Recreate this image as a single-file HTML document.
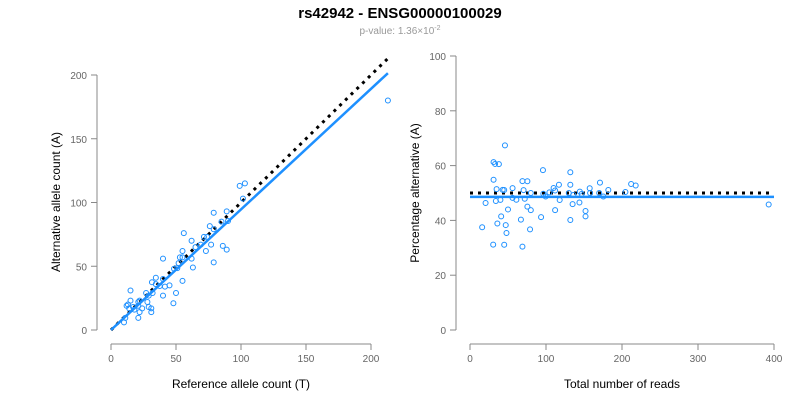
<!DOCTYPE html>
<html><head><meta charset="utf-8"><style>
body{margin:0;background:#fff;font-family:"Liberation Sans",Arial,sans-serif}
svg text{font-family:"Liberation Sans",Arial,sans-serif}
</style></head><body>
<svg id="c" width="800" height="400">
<text x="400" y="18" text-anchor="middle" font-size="15" font-weight="bold">rs42942 - ENSG00000100029</text>
<text x="400" y="34" text-anchor="middle" font-size="10" fill="#999">p-value: 1.36×10<tspan dy="-4" font-size="7">-2</tspan></text>
<g id="left"></g>
<g id="right"></g>
</svg>
<script>
const refCounts=[99,103,101.5,79,89,90,85,76,79,56,71.5,74,62,77,65,69,86,89,73,55,55,53,40,62,79,52,63,48.5,51,40,34.5,31.5,55,34.5,45,41.5,37.5,27,15,50,32,40,29,22,15,21,28,13,12,17,21,29,48,31,24,14,18,22,31,21,11,10,213];
const altCounts=[113,115,103,92,93,85.5,85,81.5,79,76,73,73,70,67,65,67,66,63,62,62,57,57,56,56,53,52.5,49,48,48.5,40,41,37.5,38.5,36,35,34,34.5,29,31,29,29,27,27,23,23,22,22,20,19,18,19,18,21,17,17,17,16,14,14,9.5,9.5,6,180];
const leftXTicks=[0,50,100,150,200];
const leftYTicks=[0,50,100,150,200];
const rightXTicks=[0,100,200,300,400];
const rightYTicks=[0,20,40,60,80,100];

const NS="http://www.w3.org/2000/svg";
function mk(p,t,a){const e=document.createElementNS(NS,t);for(const k in a)e.setAttribute(k,a[k]);p.appendChild(e);return e;}
const GR="#888", BL="#1E90FF";
const L=document.getElementById('left'), R=document.getElementById('right');
const lx=v=>111+v*1.3, ly=v=>330-v*1.275;
const rx=v=>470+v*0.76, ry=v=>330-v*2.74;

function axes(g,xs,ys,xt,yt,xlab,ylab,axX,axY,ymid,xmid){
  let e=mk(g,'line',{x1:xs(xt[0]),x2:xs(xt[xt.length-1]),y1:axY,y2:axY,stroke:GR});
  
  xt.forEach(t=>{mk(g,'line',{x1:xs(t),x2:xs(t),y1:axY,y2:axY+6,stroke:GR});
    const tx=mk(g,'text',{x:xs(t),y:axY+18,'text-anchor':'middle','font-size':10,fill:'#666'});tx.textContent=t;
    });
  e=mk(g,'line',{x1:axX,x2:axX,y1:ys(yt[0]),y2:ys(yt[yt.length-1]),stroke:GR});
  
  yt.forEach(t=>{mk(g,'line',{x1:axX-6,x2:axX,y1:ys(t),y2:ys(t),stroke:GR});
    const tx=mk(g,'text',{x:axX-10,y:ys(t)+4,'text-anchor':'end','font-size':10,fill:'#666'});tx.textContent=t;
    });
  let t1=mk(g,'text',{x:xmid,y:388,'text-anchor':'middle','font-size':12});t1.textContent=xlab;
  
  let t2=mk(g,'text',{x:0,y:0,'text-anchor':'middle','font-size':12,transform:`translate(${axX-37},${ymid}) rotate(-90)`});t2.textContent=ylab;
  
}
axes(L,lx,ly,leftXTicks,leftYTicks,'Reference allele count (T)','Alternative allele count (A)',97,344,202,241);
axes(R,rx,ry,rightXTicks,rightYTicks,'Total number of reads','Percentage alternative (A)',456,344,193,622);

const n=refCounts.length;
let sa=0,sr=0;for(let i=0;i<n;i++){sa+=altCounts[i];sr+=refCounts[i];}
const sl=sa/sr;
const pct=100*sa/(sa+sr);

// left
const maxRef=Math.max(...refCounts);
let d=mk(L,'line',{x1:lx(0),y1:ly(0),x2:lx(maxRef),y2:ly(maxRef),stroke:'#000','stroke-width':3,'stroke-dasharray':'3,5'});

d=mk(L,'line',{x1:lx(0),y1:ly(0),x2:lx(maxRef),y2:ly(sl*maxRef),stroke:BL,'stroke-width':2.5});

for(let i=0;i<n;i++){const c=mk(L,'circle',{cx:lx(refCounts[i]),cy:ly(altCounts[i]),r:2.5,fill:'none',stroke:BL});
  }

// right
d=mk(R,'line',{x1:rx(0),y1:ry(50),x2:rx(400),y2:ry(50),stroke:'#000','stroke-width':3,'stroke-dasharray':'3,5'});

d=mk(R,'line',{x1:rx(0),y1:ry(pct),x2:rx(400),y2:ry(pct),stroke:BL,'stroke-width':2.5});

for(let i=0;i<n;i++){const t=refCounts[i]+altCounts[i];
  const c=mk(R,'circle',{cx:rx(t),cy:ry(100*altCounts[i]/t),r:2.5,fill:'none',stroke:BL});
  }
</script>
</body></html>
